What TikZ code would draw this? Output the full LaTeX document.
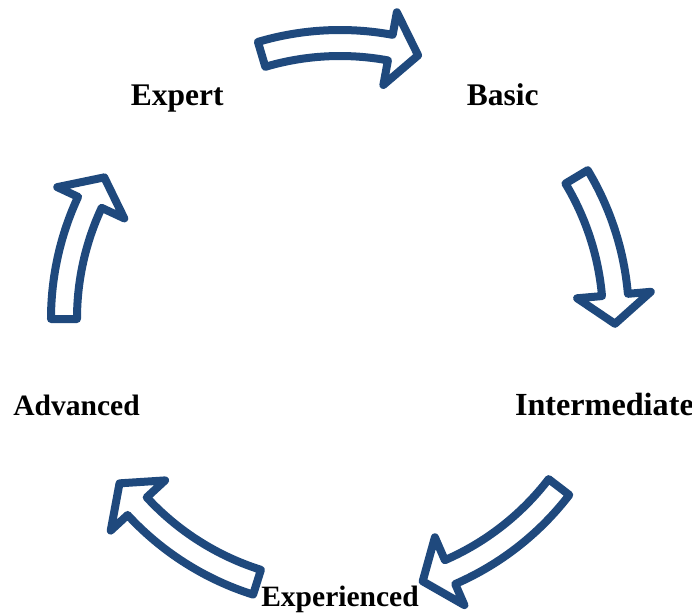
\documentclass[tikz,border=0pt]{standalone}
\usepackage{fontspec}
\setmainfont{Liberation Serif}
\definecolor{arrowblue}{HTML}{1F497D}
\begin{document}
\begin{tikzpicture}[every node/.style={rectangle, inner sep=0pt, text height=15pt, text depth=0pt}, text centered, line width=2mm]
	\tikzset{stage/.style={font=\fontsize{#1}{26}\selectfont\bfseries}, stage/.default=22.4,
		cyclearrow/.style={draw=arrowblue, fill=white, line join=round}}
	\useasboundingbox (-8.5,-7.35) rectangle (8.8,7.975);
	\node[stage] (expert) at (126:6.925) {Expert};
	\node[stage] (basic) at (54:6.925) {Basic};
	\node[stage=22.9] (intermediate) at (-18:6.95) {Intermediate};
	\node[stage=21] (experienced) at (-90:6.925) {Experienced};
	\node[stage=21] (advanced) at (198:6.925) {Advanced};
	% expert -> basic
	\draw[cyclearrow] (106.5:7.225) arc[start angle=106.5, end angle=79.5, radius=7.225] -- (79.5:7.8) -- (73.5:6.875) -- (79.5:5.95) -- (79.5:6.575) arc[start angle=79.5, end angle=106.5, radius=6.575] -- cycle;
	% basic -> intermediate
	\draw[cyclearrow] (31:7.225) arc[start angle=31, end angle=5, radius=7.225] -- (5:7.8) -- (-1:6.875) -- (5:5.95) -- (5:6.575) arc[start angle=5, end angle=31, radius=6.575] -- cycle;
	% intermediate -> experienced
	\draw[cyclearrow] (-37.5:7.225) arc[start angle=-37.5, end angle=-66.5, radius=7.225] -- (-66.5:7.8) -- (-72.5:6.875) -- (-66.5:5.95) -- (-66.5:6.575) arc[start angle=-66.5, end angle=-37.5, radius=6.575] -- cycle;
	% experienced -> advanced
	\draw[cyclearrow] (-107.5:7.225) arc[start angle=-107.5, end angle=-137.3, radius=7.225] -- (-137.3:7.8) -- (-143.3:6.875) -- (-137.3:5.95) -- (-137.3:6.575) arc[start angle=-137.3, end angle=-107.5, radius=6.575] -- cycle;
	% advanced -> expert
	\draw[cyclearrow] (180:7.225) arc[start angle=180, end angle=155, radius=7.225] -- (155:7.8) -- (149:6.875) -- (155:5.95) -- (155:6.575) arc[start angle=155, end angle=180, radius=6.575] -- cycle;
\end{tikzpicture}
\end{document}
